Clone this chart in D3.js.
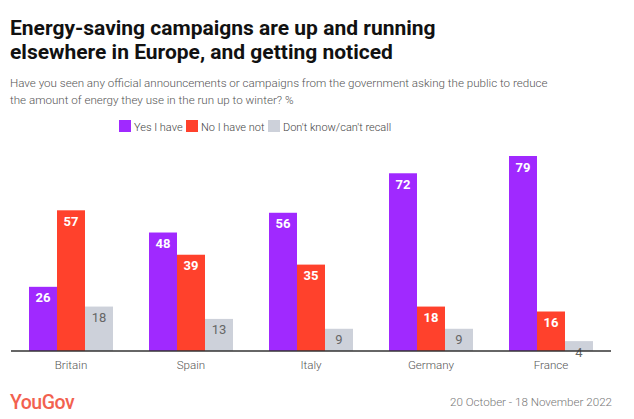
<!DOCTYPE html>
<html>
<head>
<meta charset="utf-8">
<script src="https://cdn.jsdelivr.net/npm/d3@7"></script>
<style>
  body { margin: 0; background: #fff; }
  text { font-family: Roboto, "Noto Sans", sans-serif; }
</style>
</head>
<body>
<div id="chart"></div>
<script>
// data
const countries = ["Britain", "Spain", "Italy", "Germany", "France"]
const seriesNames = ["Yes I have", "No I have not", "Don't know/can't recall"]
const yesVals = [26, 48, 56, 72, 79]
const noVals = [57, 39, 35, 18, 16]
const dkVals = [18, 13, 9, 9, 4]
const colors = ["#a029ff", "#ff412c", "#cdd1da"]

const w = 634
const h = 419

const svg = d3.select('#chart')
    .append('svg')
    .attr('width', w)
    .attr('height', h)

// title + subtitle
const title = svg.append('text')
    .attr('x', 10)
    .attr('y', 35)
    .style('font-size', '21px')
    .style('font-weight', 700)
    .style('fill', '#111')
title.append('tspan').attr('x', 10).text("Energy-saving campaigns are up and running")
title.append('tspan').attr('x', 10).attr('dy', 23.5).text("elsewhere in Europe, and getting noticed")

const sub = svg.append('text')
    .attr('x', 10)
    .attr('y', 87)
    .style('font-size', '11.6px')
    .style('font-weight', 300)
    .style('fill', '#555')
sub.append('tspan').attr('x', 10).text("Have you seen any official announcements or campaigns from the government asking the public to reduce")
sub.append('tspan').attr('x', 10).attr('dy', 17).text("the amount of energy they use in the run up to winter? %")

// legend
const legendX = [119, 186, 268]
const legend = svg.append('g')
legend.selectAll('rect')
    .data(seriesNames)
    .enter()
    .append('rect')
    .attr('x', (d, i) => legendX[i])
    .attr('y', 120)
    .attr('width', 12)
    .attr('height', 12)
    .attr('fill', (d, i) => colors[i])
legend.selectAll('text')
    .data(seriesNames)
    .enter()
    .append('text')
    .attr('x', (d, i) => legendX[i] + 15)
    .attr('y', 130.5)
    .style('font-size', '11px')
    .style('font-weight', 300)
    .style('fill', '#444')
    .text(d => d)

// scales
const base = 351
const xScale = d3.scaleBand()
    .domain(countries)
    .range([11, 611])
    .paddingInner(0.3)
    .paddingOuter(0.15)

const xSub = d3.scaleBand()
    .domain([0, 1, 2])
    .range([0, xScale.bandwidth()])

const yScale = d3.scaleLinear()
    .domain([0, 79])
    .range([base, 156])

const rows = []
countries.forEach((c, ci) => {
    [yesVals, noVals, dkVals].forEach((arr, si) => {
        rows.push({ country: c, s: si, v: arr[ci] })
    })
})

svg.selectAll('rect.bar')
    .data(rows)
    .enter()
    .append('rect')
    .attr('class', 'bar')
    .attr('x', d => xScale(d.country) + xSub(d.s))
    .attr('y', d => yScale(d.v))
    .attr('width', xSub.bandwidth())
    .attr('height', d => base - yScale(d.v))
    .attr('fill', d => colors[d.s])

svg.selectAll('text.val')
    .data(rows)
    .enter()
    .append('text')
    .attr('class', 'val')
    .attr('x', d => xScale(d.country) + xSub(d.s) + xSub.bandwidth() / 2)
    .attr('y', d => yScale(d.v) + 15.5)
    .attr('text-anchor', 'middle')
    .style('font-size', '13px')
    .style('font-weight', d => d.s === 2 ? 400 : 700)
    .style('fill', d => d.s === 2 ? '#666' : '#fff')
    .text(d => d.v)

// x axis
const xAxis = d3.axisBottom(xScale).tickSize(0).tickPadding(10)
const axisG = svg.append('g')
    .attr('transform', 'translate(0,' + base + ')')
    .call(xAxis)
axisG.select('.domain')
    .attr('d', 'M11,0H611')
    .attr('stroke', '#333')
    .attr('stroke-width', 1.5)
axisG.selectAll('.tick text')
    .style('font-family', 'Roboto, "Noto Sans", sans-serif')
    .style('font-size', '11.6px')
    .style('font-weight', 300)
    .style('fill', '#555')

// footer
svg.append('text')
    .attr('x', 10)
    .attr('y', 409)
    .style('font-size', '19.5px')
    .style('font-weight', 500)
    .style('letter-spacing', '-0.5px')
    .style('fill', '#f2614f')
    .text("YouGov")
svg.append('text')
    .attr('x', 612)
    .attr('y', 406)
    .attr('text-anchor', 'end')
    .style('font-size', '11.6px')
    .style('font-weight', 300)
    .style('fill', '#777')
    .text("20 October - 18 November 2022")
</script>
</body>
</html>
